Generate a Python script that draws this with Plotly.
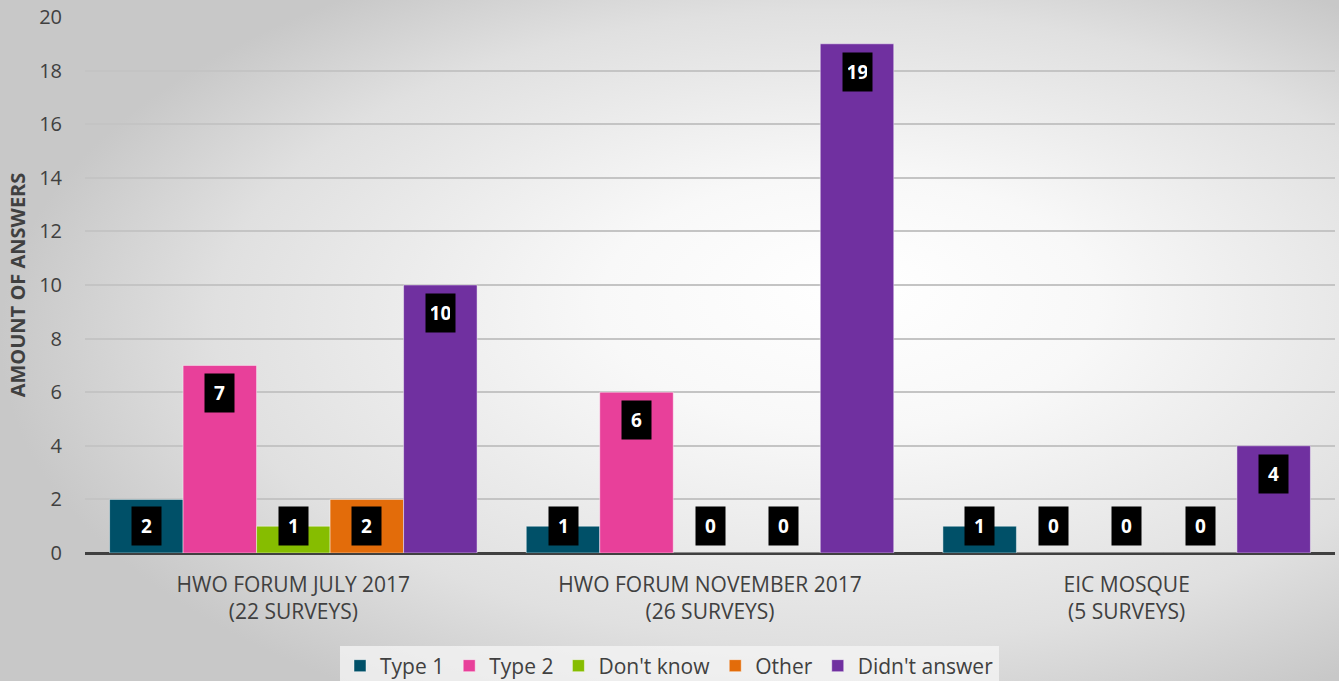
import base64
import plotly.graph_objects as go

categories = ["HWO FORUM JULY 2017<br>(22 SURVEYS)",
              "HWO FORUM NOVEMBER 2017<br>(26 SURVEYS)",
              "EIC MOSQUE<br>(5 SURVEYS)"]
series_names = ["Type 1", "Type 2", "Don't know", "Other", "Didn't answer"]
type1 = [2, 1, 1]
type2 = [7, 6, 0]
dont_know = [1, 0, 0]
other = [2, 0, 0]
didnt_answer = [10, 19, 4]
colors = ["#005068", "#E8409A", "#86BD00", "#E36C0A", "#7030A0"]
y_ticks = list(range(0, 21, 2))

all_series = [type1, type2, dont_know, other, didnt_answer]

W, H = 1339, 681
ML, MR, MT, MB = 85, 4, 17, 128
PW, PH = W - ML - MR, H - MT - MB

svg = f'''<svg xmlns="http://www.w3.org/2000/svg" width="{W}" height="{H}" viewBox="0 0 {W} {H}" preserveAspectRatio="none">
<defs><radialGradient id="g" cx="0.62" cy="0.5" r="0.62" fx="0.64" fy="0.42">
<stop offset="0" stop-color="#ffffff"/><stop offset="0.3" stop-color="#f8f8f8"/>
<stop offset="0.75" stop-color="#e0e0e0"/><stop offset="1" stop-color="#c8c8c8"/></radialGradient></defs>
<rect width="{W}" height="{H}" fill="url(#g)"/></svg>'''
src = "data:image/svg+xml;base64," + base64.b64encode(svg.encode()).decode()

fig = go.Figure()
for name, vals, col in zip(series_names, all_series, colors):
    fig.add_trace(go.Bar(name=name, x=categories, y=vals,
                         marker=dict(color=col, line=dict(color="rgba(255,255,255,0.45)", width=1))))

# data labels (black boxes)
group_px = PW / len(categories)
bargap = 0.118
bar_px = group_px * (1 - bargap) / len(series_names)
px_per_unit = PH / 20.0
for i, vals in enumerate(all_series):
    for c, v in zip(categories, vals):
        ypos = max(v - 28 / px_per_unit, 27 / px_per_unit)
        fig.add_annotation(x=c, y=ypos, xref="x", yref="y", text=f"<b>{v}</b>",
                           showarrow=False, xshift=(i - 2) * bar_px,
                           font=dict(family="Open Sans", size=19, color="white"),
                           bgcolor="black", borderpad=5, width=19, height=28)

fig.add_layout_image(dict(source=src, xref="paper", yref="paper",
                          x=-ML / PW, y=1 + MT / PH, sizex=W / PW, sizey=H / PH,
                          sizing="stretch", xanchor="left", yanchor="top", layer="below"))

fig.update_layout(
    width=W, height=H,
    margin=dict(l=ML, r=MR, t=MT, b=MB, autoexpand=False),
    paper_bgcolor="rgba(0,0,0,0)", plot_bgcolor="rgba(0,0,0,0)",
    barmode="group", bargap=bargap, bargroupgap=0,
    font=dict(family="Open Sans", color="#404040", size=20),
    showlegend=True,
    legend=dict(orientation="h", x=0.5, xanchor="center", xref="container",
                y=0.022, yanchor="middle", yref="container",
                font=dict(size=21, color="#404040"), bgcolor="rgba(246,246,246,0.75)",
                itemwidth=30, tracegroupgap=0),
    xaxis=dict(showgrid=False, ticks="", tickfont=dict(size=21, color="#404040"),
               showline=False, automargin=False, ticklabelstandoff=17),
    yaxis=dict(range=[0, 20], tickvals=y_ticks, showgrid=True, gridcolor="#c4c4c4",
               gridwidth=1.5, zeroline=True, zerolinecolor="#404040", zerolinewidth=3,
               automargin=False,
               tickfont=dict(size=20, color="#404040"), ticklabelstandoff=22,
               title=dict(text="<b>AMOUNT OF ANSWERS</b>", font=dict(size=20, color="#404040"),
                          standoff=8)),
)
fig.write_html("out.html", config={"displayModeBar": False},
               post_script="document.body.style.margin='0';document.body.style.overflow='hidden';")
